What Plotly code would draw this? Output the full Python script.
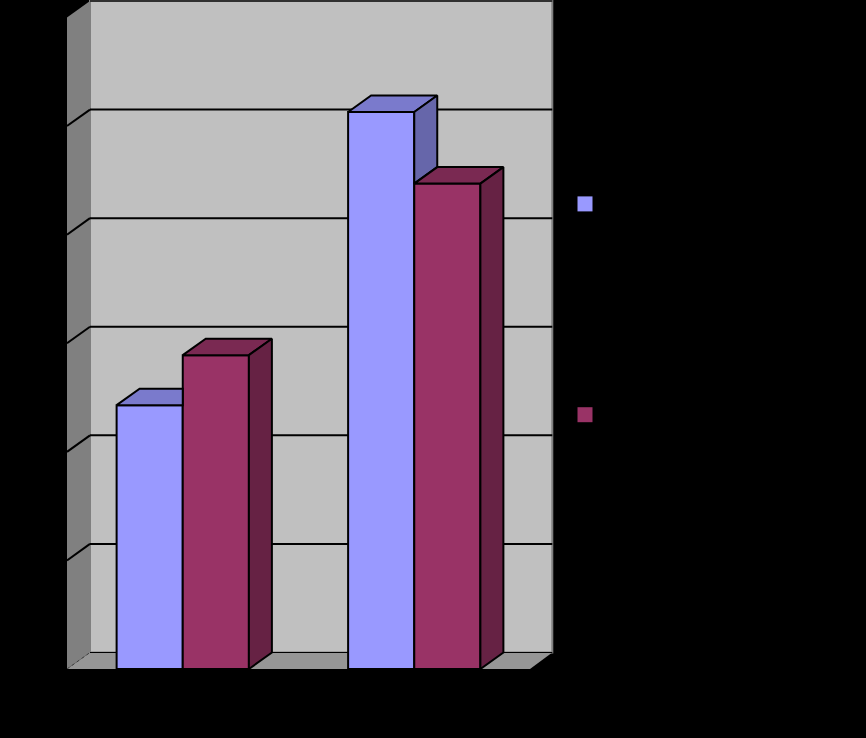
import plotly.graph_objects as go

categories = [0, 1]
series_names = ["Series 1", "Series 2"]
series_a = [2.43, 5.13]
series_b = [2.89, 4.47]
gridline_values = [1, 2, 3, 4, 5, 6]

FRONT = ["#9999FF", "#993366"]
TOP = ["#7A7ACC", "#7A2952"]
SIDE = ["#6666AA", "#662244"]

# scale: px per unit and 3D depth, expressed in data units
PX_X, PX_Y = 231.5, 108.67
DX, DY = 23 / PX_X, 16.5 / PX_Y
L, R, FLOOR_Y = 67, 554, 669.5
BARGAP = 1.5 / 3.5
W = (1 - BARGAP) / 2
X0, X1 = -0.5, -0.5 + (R - L) / PX_X
Y1 = FLOOR_Y / PX_Y
XMAX = 1.5 + DX - 0.7 / PX_X
YMAX = 6 + DY

fig = go.Figure()


def poly(xs, ys, color, lw=2, line="#000000"):
    fig.add_trace(go.Scatter(
        x=xs + xs[:1], y=ys + ys[:1], mode="lines", fill="toself", fillcolor=color,
        line=dict(color=line, width=lw), hoverinfo="skip", showlegend=False))


for i, vals in enumerate([series_a, series_b]):
    fig.add_trace(go.Bar(
        x=categories, y=vals, name=series_names[i], marker=dict(color=FRONT[i], line=dict(color="#000000", width=2)),
        showlegend=False))

for c, a, b in zip(categories, series_a, series_b):
    xa0, xa1, xb1 = c - W, c, c + W
    # first series: top face, cut at the neighbouring bar's front if that bar is taller
    if b >= a:
        poly([xa0, xa0 + DX, xa1, xa1], [a, a + DY, a + DY, a], TOP[0])
    else:
        poly([xa0, xa0 + DX, xa1 + DX, xa1], [a, a + DY, a + DY, a], TOP[0])
        poly([xa1, xa1 + DX, xa1 + DX, xa1], [a, a + DY, b + DY, b], SIDE[0])
    # second series: top and side are always in front
    poly([xa1, xa1 + DX, xb1 + DX, xb1], [b, b + DY, b + DY, b], TOP[1])
    poly([xb1, xb1 + DX, xb1 + DX, xb1], [b, b + DY, DY, 0], SIDE[1])

# legend entries
for i, name in enumerate(series_names):
    fig.add_trace(go.Scatter(
        x=[None], y=[None], mode="markers", name=name, legendgroup=name,
        marker=dict(symbol="square", size=15, color=FRONT[i], line=dict(width=0))))

shapes = [
    # back wall
    dict(type="rect", x0=-0.5 + DX, x1=XMAX, y0=DY, y1=YMAX, fillcolor="#C0C0C0",
         line=dict(color="#808080", width=2), layer="below"),
    # left wall
    dict(type="path", path=f"M {X0} 0 L {X0 + DX} {DY} L {X0 + DX} {YMAX} L {X0} 6 Z",
         fillcolor="#808080", line=dict(width=0), layer="below"),
    # floor
    dict(type="path", path=f"M {X0} 0 L {X0 + DX} {DY} L {XMAX} {DY} L 1.5 0 Z",
         fillcolor="#969696", line=dict(width=0), layer="below"),
    dict(type="line", x0=X0 + DX, x1=XMAX, y0=DY, y1=DY, line=dict(color="#000000", width=1), layer="below"),
    dict(type="line", x0=X0, x1=X0 + DX, y0=0, y1=DY, line=dict(color="#404040", width=1, dash="dot"), layer="below"),
    dict(type="line", x0=X0 + DX, x1=XMAX, y0=YMAX, y1=YMAX, line=dict(color="#303030", width=2), layer="below"),
]
for v in gridline_values[:-1]:
    shapes.append(dict(type="line", x0=X0 + DX, x1=XMAX, y0=v + DY, y1=v + DY,
                       line=dict(color="#000000", width=2), layer="below"))
    shapes.append(dict(type="line", x0=X0, x1=X0 + DX, y0=v, y1=v + DY,
                       line=dict(color="#000000", width=2), layer="below"))

fig.update_layout(
    width=866, height=738, paper_bgcolor="#000000", plot_bgcolor="#000000",
    margin=dict(l=L, r=866 - R, t=0, b=738 - FLOOR_Y, autoexpand=False),
    barmode="group", bargap=BARGAP, bargroupgap=0, shapes=shapes,
    font=dict(family="Liberation Sans", size=16, color="#000000"),
    xaxis=dict(range=[X0, X1], visible=False),
    yaxis=dict(range=[0, Y1], visible=False),
    legend=dict(x=565 / 866, xanchor="left", y=1 - 187 / 738, yanchor="top", yref="container", xref="container",
                tracegroupgap=187, bgcolor="rgba(0,0,0,0)", itemsizing="trace"),
)
fig.write_html("out.html", config={"displayModeBar": False},
               post_script="document.body.style.margin='0';document.body.style.background='#000';")
